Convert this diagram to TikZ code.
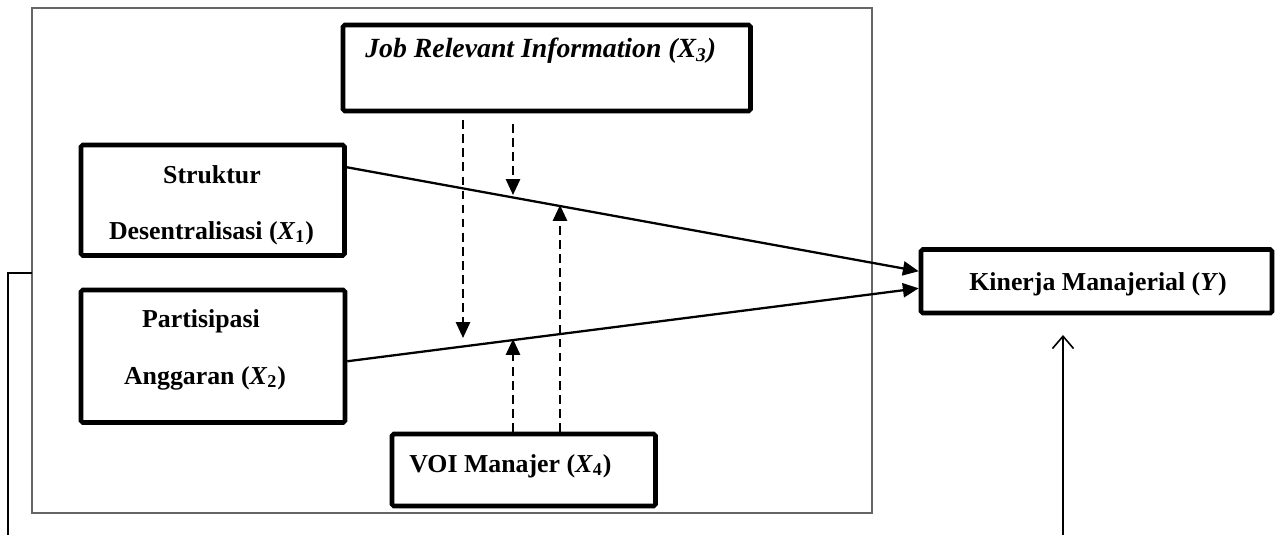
\documentclass[tikz,border=0pt]{standalone}
\usepackage{fontspec}
\setmainfont{Liberation Serif}
\usetikzlibrary{arrows.meta,calc}
\begin{document}
\begin{tikzpicture}[x=0.02cm,y=-0.02cm,
  box/.style 2 args={draw,line width=2.6pt,rounded corners=1pt,inner sep=0pt,
    minimum width=#1*0.02cm,minimum height=#2*0.02cm},
  txt/.style={font=\fontsize{14.7}{17}\selectfont\bfseries,inner sep=0pt,anchor=base},
  solidarrow/.style={line width=1.3pt,-{Triangle[length=9pt,width=8pt]}},
  dasharrow/.style={line width=1.3pt,dash pattern=on 5pt off 3pt,-{Triangle[length=9pt,width=8pt]}},
  frame/.style={draw=black!60,line width=0.7pt},
  side/.style={line width=0.8pt},
  openarrow/.style={line width=0.9pt,-{Straight Barb[length=7pt,width=12pt]}}]
\useasboundingbox (0,0) rectangle (1277,535);
% outer frame
\draw[frame] (32,8) rectangle (872,513);
\coordinate (fl) at (32,273);
\coordinate (fb) at (8,535);
\draw[side] (fl) -| (fb);
% boxes
\node[box={407.5}{86}] (j) at (546.75,68) {};
\node[box={263.5}{110.5}] (s) at (212.75,200.25) {};
\node[box={264}{132.5}] (p) at (213,356.25) {};
\node[box={263.5}{72}] (v) at (523.75,470) {};
\node[box={351}{63.5}] (k) at (1096.5,281.25) {};
% texts
\node[txt,anchor=base west,font=\fontsize{15.8}{18}\selectfont\bfseries] (jt) at (365,57) {\textit{Job Relevant Information (X\textsubscript{3})}};
\node[txt] (st1) at (212,183) {Struktur};
\node[txt] (st2) at (211.5,239) {Desentralisasi (\textit{X}\textsubscript{1})};
\node[txt] (pt1) at (201,327) {Partisipasi};
\node[txt] (pt2) at (205,384) {Anggaran (\textit{X}\textsubscript{2})};
\node[txt,anchor=base west] (vt) at (409,472) {VOI Manajer (\textit{X}\textsubscript{4})};
\node[txt,anchor=base west] (kt) at (969,290) {Kinerja Manajerial (\textit{Y})};
% main paths
\draw[solidarrow] ($(s.east)+(0,-33)$) -- ($(k.west)+(0,-10)$);
\draw[solidarrow] ($(p.east)+(0,5)$) -- ($(k.west)+(0,7)$);
% moderating dashed arrows
\coordinate (d1) at (463,338);
\coordinate (d2) at (513,195);
\coordinate (u1) at (513,339);
\coordinate (u2) at (560,205);
\draw[dasharrow] ($(j.south -| d1)+(0,7)$) -- (d1);
\draw[dasharrow] ($(j.south -| d2)+(0,11)$) -- (d2);
\draw[dasharrow] (v.north -| u1) -- (u1);
\draw[dasharrow] (v.north -| u2) -- (u2);
% bottom arrow
\coordinate (kb) at (1063,535);
\coordinate (ktip) at (1063,335);
\draw[openarrow] (kb) -- (ktip);
\end{tikzpicture}
\end{document}
